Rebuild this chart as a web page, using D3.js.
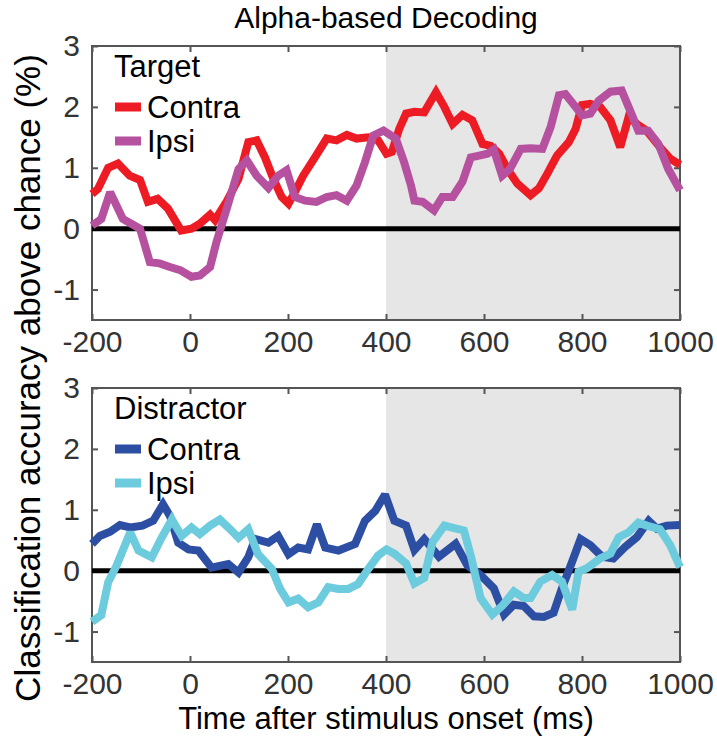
<!DOCTYPE html>
<html>
<head>
<meta charset="utf-8">
<script src="https://cdn.jsdelivr.net/npm/d3@7"></script>
<style>
  body { margin: 0; background: #fff; }
  svg text { font-family: "Liberation Sans", Arial, Helvetica, sans-serif; }
</style>
</head>
<body>
<div id="chart"></div>
<script>
//tick values
var xTicks = [-200, 0, 200, 400, 600, 800, 1000];
var yTicks = [-1, 0, 1, 2, 3];

//series, [time (ms), accuracy (%)]
var targetContra = [[-200,0.57],[-188,0.65],[-167,1.0],[-147,1.07],[-123,0.87],[-102,0.8],[-86,0.44],[-66,0.49],[-45,0.33],[-18,-0.03],[3,0.0],[20,0.08],[41,0.23],[51,0.14],[75,0.45],[99,0.82],[119,1.42],[136,1.45],[153,1.17],[170,0.82],[187,0.52],[201,0.41],[214,0.6],[231,0.87],[255,1.17],[279,1.48],[299,1.45],[320,1.54],[340,1.48],[364,1.5],[384,1.45],[401,1.23],[412,1.26],[427,1.64],[441,1.89],[458,1.92],[478,1.91],[502,2.24],[519,2.0],[536,1.72],[556,1.87],[576,1.78],[597,1.39],[614,1.36],[631,1.23],[648,0.98],[668,0.74],[695,0.55],[712,0.66],[729,0.9],[749,1.2],[773,1.42],[787,1.64],[800,2.03],[817,2.05],[837,2.0],[858,1.78],[878,1.34],[895,1.83],[912,1.72],[932,1.61],[959,1.34],[980,1.15],[1000,1.05]];

var targetIpsi = [[-200,0.05],[-181,0.16],[-163,0.6],[-137,0.16],[-102,0.0],[-82,-0.55],[-62,-0.57],[-41,-0.63],[-20,-0.68],[3,-0.79],[20,-0.77],[41,-0.63],[54,-0.22],[75,0.33],[99,0.98],[116,1.12],[136,0.87],[160,0.67],[180,0.87],[197,0.96],[214,0.52],[235,0.46],[258,0.44],[279,0.52],[299,0.55],[320,0.46],[340,0.71],[357,1.09],[374,1.53],[395,1.61],[420,1.48],[437,1.09],[451,0.71],[458,0.46],[475,0.44],[498,0.3],[515,0.52],[536,0.52],[556,0.77],[573,1.17],[590,1.2],[607,1.23],[620,1.3],[637,0.87],[653,0.98],[675,1.31],[695,1.32],[719,1.31],[736,1.67],[753,2.19],[766,2.21],[787,2.0],[800,1.86],[817,1.89],[834,2.1],[858,2.25],[881,2.27],[895,2.0],[915,1.61],[935,1.61],[956,1.39],[976,0.98],[1000,0.63]];

var distContra = [[-200,0.44],[-184,0.57],[-163,0.64],[-143,0.75],[-122,0.71],[-97,0.74],[-75,0.82],[-55,1.09],[-41,0.9],[-24,0.46],[-3,0.35],[17,0.33],[44,0.05],[78,0.11],[99,-0.03],[119,0.22],[133,0.52],[160,0.46],[180,0.57],[201,0.27],[221,0.38],[241,0.35],[259,0.76],[276,0.38],[303,0.33],[337,0.44],[357,0.82],[378,0.98],[398,1.25],[417,0.82],[441,0.74],[458,0.34],[478,0.52],[508,0.23],[542,0.44],[566,0.09],[593,-0.07],[620,-0.29],[641,-0.72],[661,-0.56],[681,-0.58],[702,-0.75],[722,-0.76],[742,-0.69],[759,-0.29],[780,0.15],[797,0.52],[817,0.42],[841,0.23],[864,0.2],[888,0.39],[912,0.55],[936,0.82],[953,0.69],[973,0.74],[1000,0.75]];

var distIpsi = [[-200,-0.84],[-181,-0.73],[-167,-0.19],[-150,0.08],[-122,0.63],[-105,0.33],[-78,0.22],[-58,0.54],[-37,0.84],[-17,0.57],[3,0.71],[20,0.6],[41,0.74],[61,0.84],[82,0.68],[99,0.54],[119,0.68],[139,0.27],[167,0.03],[184,-0.3],[201,-0.52],[221,-0.46],[241,-0.6],[262,-0.52],[282,-0.27],[303,-0.3],[323,-0.3],[343,-0.22],[364,0.03],[384,0.25],[401,0.35],[417,0.28],[441,0.12],[458,-0.21],[478,-0.12],[495,0.47],[519,0.74],[539,0.7],[559,0.66],[573,0.25],[593,-0.45],[617,-0.72],[637,-0.58],[661,-0.34],[681,-0.45],[695,-0.45],[715,-0.18],[739,-0.07],[759,-0.18],[780,-0.64],[793,-0.02],[810,0.04],[837,0.2],[858,0.28],[875,0.55],[895,0.63],[915,0.79],[932,0.74],[959,0.68],[980,0.42],[1000,0.06]];

var shadeStart = 400;

var svgWidth = 717;
var svgHeight = 746;

var svg = d3.select("#chart").append("svg")
    .attr("width", svgWidth)
    .attr("height", svgHeight);

var left = 92, right = 680;
var x = d3.scaleLinear().domain([-200, 1000]).range([left, right]);

var axisColor = "#555";
var fs = 30;
var plainNum = d => String(d);

//draw one panel
function drawPanel(top, bottom, title, series) {
    var y = d3.scaleLinear().domain([-1.5, 3]).range([bottom, top]);
    var g = svg.append("g");

    //shaded window
    g.append("rect")
        .attr("x", x(shadeStart))
        .attr("y", top)
        .attr("width", x(1000) - x(shadeStart))
        .attr("height", bottom - top)
        .attr("fill", "#e6e6e6");

    //axes with inward ticks
    var bottomAxis = d3.axisBottom(x).tickValues(xTicks).tickFormat(plainNum).tickSize(-6).tickSizeOuter(0).tickPadding(11);
    var leftAxis = d3.axisLeft(y).tickValues(yTicks).tickFormat(plainNum).tickSize(-6).tickSizeOuter(0).tickPadding(12);
    var topAxis = d3.axisTop(x).tickValues(xTicks).tickSize(-6).tickSizeOuter(0).tickFormat("");
    var rightAxis = d3.axisRight(y).tickValues(yTicks).tickSize(-6).tickSizeOuter(0).tickFormat("");

    var ax = [
        g.append("g").attr("transform", `translate(0, ${bottom})`).call(bottomAxis),
        g.append("g").attr("transform", `translate(${left}, 0)`).call(leftAxis),
        g.append("g").attr("transform", `translate(0, ${top})`).call(topAxis),
        g.append("g").attr("transform", `translate(${right}, 0)`).call(rightAxis)
    ];
    ax.forEach(function(a) {
        a.select(".domain").remove();
        a.selectAll("line").attr("stroke", axisColor).attr("stroke-width", 2);
        a.selectAll("text")
            .attr("fill", "#333")
            .style("font-size", fs + "px")
            .style("font-family", "'Liberation Sans', Arial, sans-serif");
    });

    //box
    g.append("rect")
        .attr("x", left)
        .attr("y", top)
        .attr("width", right - left)
        .attr("height", bottom - top)
        .attr("fill", "none")
        .attr("stroke", axisColor)
        .attr("stroke-width", 2);

    //zero line
    g.append("line")
        .attr("x1", x(-200)).attr("x2", x(1000))
        .attr("y1", y(0)).attr("y2", y(0))
        .attr("stroke", "#000")
        .attr("stroke-width", 5);

    var line = d3.line()
        .x(d => x(d[0]))
        .y(d => y(d[1]));

    series.forEach(function(s) {
        g.append("path")
            .datum(s.data)
            .attr("d", line)
            .attr("fill", "none")
            .attr("stroke", s.color)
            .attr("stroke-width", 8)
            .attr("stroke-linejoin", "miter")
            .attr("stroke-miterlimit", 2);
    });

    //legend
    var legend = g.append("g");
    legend.append("text")
        .attr("x", 114)
        .attr("y", top + 31)
        .style("font-size", "31px")
        .attr("fill", "#000")
        .text(title);

    series.forEach(function(s, i) {
        var cy = top + 61 + i * 34;
        legend.append("line")
            .attr("x1", 115).attr("x2", 141)
            .attr("y1", cy).attr("y2", cy)
            .attr("stroke", s.color)
            .attr("stroke-width", 9);
        legend.append("text")
            .attr("x", 147)
            .attr("y", cy + 11)
            .style("font-size", "31px")
            .attr("fill", "#000")
            .text(s.name);
    });
}

drawPanel(46, 320, "Target", [
    {name: "Contra", color: "#ed1c24", data: targetContra},
    {name: "Ipsi", color: "#b5519f", data: targetIpsi}
]);

drawPanel(388, 662, "Distractor", [
    {name: "Contra", color: "#2d4fa3", data: distContra},
    {name: "Ipsi", color: "#6ccbdc", data: distIpsi}
]);

//title
svg.append("text")
    .attr("x", (left + right) / 2)
    .attr("y", 28)
    .attr("text-anchor", "middle")
    .style("font-size", "30px")
    .attr("fill", "#000")
    .text("Alpha-based Decoding");

//x label
svg.append("text")
    .attr("x", (left + right) / 2)
    .attr("y", 729)
    .attr("text-anchor", "middle")
    .style("font-size", "31px")
    .attr("fill", "#000")
    .text("Time after stimulus onset (ms)");

//y label
svg.append("text")
    .attr("transform", `translate(40, ${(46 + 662) / 2 + 24}) rotate(-90)`)
    .attr("text-anchor", "middle")
    .style("font-size", "35px")
    .attr("fill", "#000")
    .text("Classification accuracy above chance (%)");
</script>
</body>
</html>
